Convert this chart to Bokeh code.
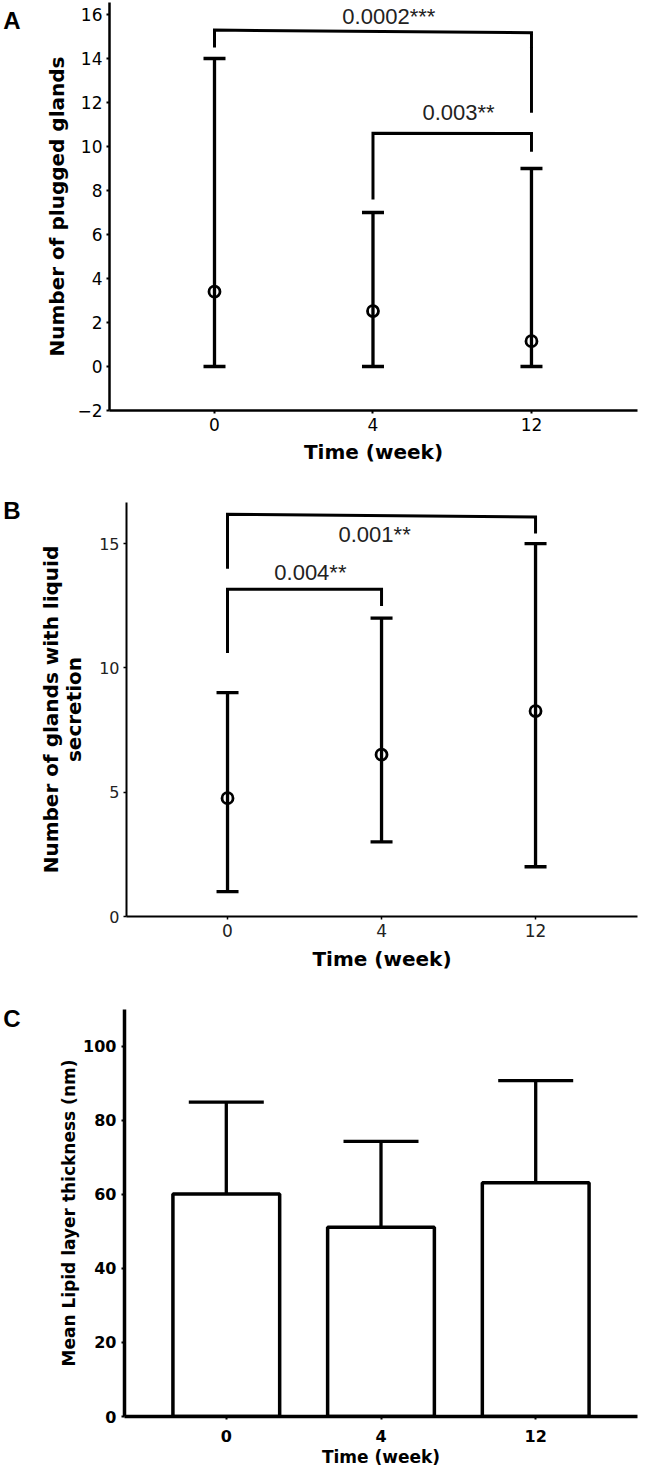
from bokeh.plotting import figure
from bokeh.layouts import column
from bokeh.models import (FixedTicker, Range1d, ColumnDataSource, Whisker, TeeHead, LinearAxis)
from bokeh.embed import file_html
from bokeh.resources import INLINE
from bokeh.core.properties import value

weeks = ["0", "4", "12"]

# Panel A: number of plugged glands
plugged_mean = [3.4, 2.52, 1.15]
plugged_low = [0, 0, 0]
plugged_high = [14, 7, 9]
plugged_pairs = [(0, 2), (1, 2)]
plugged_p = ["0.0002***", "0.003**"]

# Panel B: number of glands with liquid secretion
liquid_mean = [4.76, 6.51, 8.26]
liquid_low = [1, 3, 2]
liquid_high = [9, 12, 15]
liquid_pairs = [(0, 2), (0, 1)]
liquid_p = ["0.001**", "0.004**"]

# Panel C: mean lipid layer thickness
lipid_mean = [60.1, 51.1, 63.1]
lipid_low = [35.1, 27.5, 35.2]
lipid_high = [84.9, 74.3, 90.7]

XS = list(range(len(weeks)))
TICK_FONT = "DejaVu Sans"
P_FONT = "Liberation Sans"


def base_fig(height, left, top, bottom, xr, yr, yticks):
    p = figure(width=640, height=height, output_backend="svg", toolbar_location=None,
               x_range=Range1d(*xr), y_range=Range1d(*yr), frame_align=False,
               min_border_left=left, min_border_right=3, min_border_top=top,
               min_border_bottom=bottom)
    p.outline_line_color = None
    p.xgrid.visible = False
    p.ygrid.visible = False
    p.background_fill_color = "white"
    p.border_fill_color = "white"
    p.xaxis.ticker = FixedTicker(ticks=XS)
    p.xaxis.major_label_overrides = {i: w for i, w in enumerate(weeks)}
    p.yaxis.ticker = FixedTicker(ticks=yticks)
    for ax in (p.xaxis, p.yaxis):
        ax.minor_tick_line_color = None
        ax.major_tick_in = 0
        ax.major_tick_out = 3
        ax.axis_line_color = "black"
        ax.major_tick_line_color = "black"
        ax.major_label_text_color = "black"
        ax.axis_label_text_color = "black"
        ax.axis_label_text_font = TICK_FONT
        ax.axis_label_text_font_style = "bold"
        ax.major_label_text_font = TICK_FONT
    return p


def add_errors(p, means, low, high, cap, lw):
    src = ColumnDataSource(dict(x=XS, m=means, lo=low, hi=high))
    w = Whisker(source=src, base="x", lower="lo", upper="hi", line_width=lw, line_color="black",
                upper_head=TeeHead(size=cap, line_width=lw, line_color="black"),
                lower_head=TeeHead(size=cap, line_width=lw, line_color="black"))
    p.add_layout(w)
    return src


def add_brackets(p, pairs, tops_l, tops_r, feet_l, feet_r, labels, lx, ly):
    xs, ys = [], []
    for (a, b), tl, tr, fl, fr in zip(pairs, tops_l, tops_r, feet_l, feet_r):
        xs.append([XS[a], XS[a], XS[b], XS[b]])
        ys.append([fl, tl, tr, fr])
    p.multi_line(xs=xs, ys=ys, line_width=3, line_color="black", line_join="miter")
    p.text(x=lx, y=ly, text=labels, text_font=value(P_FONT), text_font_size="22px",
           text_align="center", text_baseline="middle", text_color="#222222")


def panel_letter(p, y, t, standoff):
    # the panel letter is drawn as the only tick label of an extra, line-less left axis
    ax = LinearAxis(ticker=FixedTicker(ticks=[y]), major_label_overrides={y: t},
                    axis_line_color=None, major_tick_line_color=None, minor_tick_line_color=None,
                    major_tick_out=0, major_tick_in=0, major_label_standoff=standoff,
                    major_label_text_font="Liberation Sans", major_label_text_font_style="bold",
                    major_label_text_font_size="24px", major_label_text_color="black")
    p.add_layout(ax, "left")


# ---------- Panel A ----------
pA = base_fig(470, 104, 2, 60, (-0.6625, 2.669), (-2, 16.545), list(range(-2, 17, 2)))
pA.xaxis.axis_label = "Time (week)"
pA.yaxis.axis_label = "Number of plugged glands"
for ax in (pA.xaxis, pA.yaxis):
    ax.axis_line_width = 2.5
    ax.major_tick_line_width = 2
    ax.major_label_text_font_size = "17px"
    ax.axis_label_text_font_size = "20px"
    ax.major_label_standoff = 4
pA.xaxis.axis_label_standoff = 6
pA.yaxis.axis_label_standoff = 5
srcA = add_errors(pA, plugged_mean, plugged_low, plugged_high, 22, 3.3)
pA.scatter("x", "m", source=srcA, marker="circle", size=11, fill_color=None,
           line_color="black", line_width=2.8)
add_brackets(pA, plugged_pairs, [15.29, 10.6], [15.17, 10.59], [14.5, 7.59], [11.53, 9.76],
             plugged_p, [1.1, 1.54], [15.9, 11.55])
panel_letter(pA, 16.32, "A", 22)

# ---------- Panel B ----------
pB = base_fig(517, 126, 32, 71, (-0.656, 2.662), (0, 16.65), [0, 5, 10, 15])
pB.xaxis.axis_label = "Time (week)"
pB.yaxis.axis_label = "Number of glands with liquid\nsecretion"
for ax in (pB.xaxis, pB.yaxis):
    ax.axis_line_width = 2
    ax.major_tick_line_width = 1.5
    ax.major_label_text_font_size = "16px"
    ax.major_label_text_color = "#222222"
    ax.axis_label_text_font_size = "20px"
    ax.major_label_standoff = 4
pB.xaxis.major_label_text_font_size = "17px"
pB.xaxis.axis_label_standoff = 7
pB.yaxis.axis_label_standoff = 10
pB.yaxis.axis_label_text_line_height = 0.95
srcB = add_errors(pB, liquid_mean, liquid_low, liquid_high, 22, 3.3)
pB.scatter("x", "m", source=srcB, marker="circle", size=11, fill_color=None,
           line_color="black", line_width=2.8)
add_brackets(pB, liquid_pairs, [16.18, 13.16], [16.07, 13.16], [13.99, 10.6], [15.4, 12.49],
             liquid_p, [0.955, 0.538], [15.37, 13.85])
panel_letter(pB, 16.32, "B", 16)

# ---------- Panel C ----------
pC = base_fig(486, 123, 22, 57, (-0.658, 2.658), (0, 109.9), list(range(0, 101, 20)))
pC.xaxis.axis_label = "Time (week)"
pC.yaxis.axis_label = "Mean Lipid layer thickness (nm)"
for ax in (pC.xaxis, pC.yaxis):
    ax.axis_line_width = 3.5
    ax.major_tick_line_width = 2
    ax.major_label_text_font_size = "16px"
    ax.major_label_text_font_style = "bold"
    ax.axis_label_text_font_size = "17px"
pC.yaxis.major_label_standoff = 5
pC.xaxis.major_label_standoff = 10
pC.xaxis.axis_label_standoff = 2
pC.yaxis.axis_label_standoff = 1
srcC = ColumnDataSource(dict(x=XS, m=lipid_mean, lo=lipid_low, hi=lipid_high))
pC.vbar(x="x", top="m", bottom=0, width=0.69, source=srcC, fill_color="white",
        line_color="black", line_width=3.5)
add_errors(pC, lipid_mean, lipid_low, lipid_high, 75, 3.3)
panel_letter(pC, 107.5, "C", 36)

layout = column(pA, pB, pC)
open("out.html", "w").write(file_html(layout, INLINE))
